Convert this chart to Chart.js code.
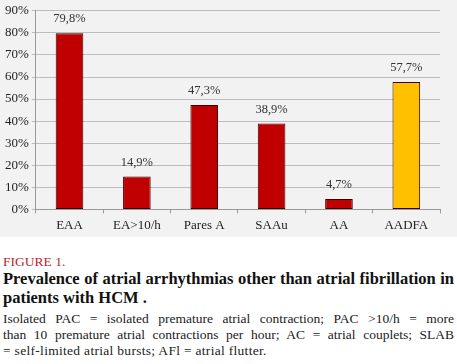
<!DOCTYPE html>
<html><head><meta charset="utf-8">
<script src="https://cdn.jsdelivr.net/npm/chart.js@4/dist/chart.umd.min.js"></script>
<style>
html,body{margin:0;padding:0;background:#fff;}
#wrap{width:457px;height:364px;position:relative;overflow:hidden;}
#chartBox{position:absolute;left:0;top:0;width:457px;height:237px;background:#f2f2f2;}
#cap{position:absolute;left:3px;top:0;width:451px;font-family:"Liberation Serif","Times New Roman",Times,"Tinos","Noto Serif",serif;}
.fig{color:#b8262b;font-size:13.5px;line-height:16px;position:absolute;top:254px;left:0;}
.t{font-weight:bold;font-size:16.5px;line-height:20px;position:absolute;left:0;width:451px;color:#111;white-space:nowrap;}
.j{text-align:justify;text-align-last:justify;}
.d{font-size:13.5px;line-height:16px;position:absolute;left:0;width:451px;color:#222;white-space:nowrap;}
</style></head>
<body><div id="wrap">
<div id="chartBox"><canvas id="c" width="457" height="237"></canvas></div>
<div id="cap">
<div class="fig">FIGURE 1.</div>
<div class="t j" style="top:269px;">Prevalence of atrial arrhythmias other than atrial fibrillation in</div>
<div class="t" style="top:288px;">patients with HCM .</div>
<div class="d j" style="top:311px;">Isolated PAC = isolated premature atrial contraction; PAC &gt;10/h = more</div>
<div class="d j" style="top:327px;">than 10 premature atrial contractions per hour; AC = atrial couplets; SLAB</div>
<div class="d" style="top:343px;letter-spacing:0.3px;">= self-limited atrial bursts; AFl = atrial flutter.</div>
</div>
</div>
<script>
const categories = ["EAA","EA>10/h","Pares A","SAAu","AA","AADFA"];
const values = [79.8, 14.9, 47.3, 38.9, 4.7, 57.7];
const valueLabels = ["79,8%","14,9%","47,3%","38,9%","4,7%","57,7%"];
const barColors = ["#c00000","#c00000","#c00000","#c00000","#c00000","#ffc000"];
const yTicks = [0,10,20,30,40,50,60,70,80,90];
const FAM = '"Liberation Serif", "Times New Roman", Times, Tinos, "Noto Serif", serif';

const labelPlugin = {
  id:'vlabels',
  afterDatasetsDraw(chart){
    const ctx = chart.ctx;
    const meta = chart.getDatasetMeta(0);
    ctx.save();
    ctx.font = '12.5px ' + FAM;
    ctx.fillStyle = '#333';
    ctx.textAlign = 'center';
    ctx.textBaseline = 'bottom';
    meta.data.forEach((bar,i)=>{
      ctx.fillText(valueLabels[i], bar.x, bar.y - 8);
    });
    ctx.restore();
  }
};

new Chart(document.getElementById('c'), {
  type:'bar',
  data:{labels:categories, datasets:[{data:values, backgroundColor:barColors, borderColor:"#3a0000", borderWidth:1, borderSkipped:false, categoryPercentage:1, barPercentage:0.41}]},
  options:{
    responsive:false, animation:false,
    layout:{padding:{left:2,right:17,top:9,bottom:0}},
    plugins:{legend:{display:false}, tooltip:{enabled:false}},
    scales:{
      x:{
        grid:{display:true, drawOnChartArea:false, drawTicks:true, tickLength:4, color:'#999', offset:true},
        border:{color:'#999'},
        ticks:{color:'#222', font:{family:FAM, size:13}, padding:4}
      },
      y:{
        min:0,max:90,
        afterBuildTicks(axis){axis.ticks = yTicks.map(v=>({value:v}));},
        grid:{color:'#bdbdbd', tickLength:4, lineWidth:1},
        border:{color:'#999'},
        ticks:{color:'#222', font:{family:FAM, size:13}, padding:3, callback:(v)=>v+'%'}
      }
    }
  },
  plugins:[labelPlugin]
});
</script>
</body></html>
